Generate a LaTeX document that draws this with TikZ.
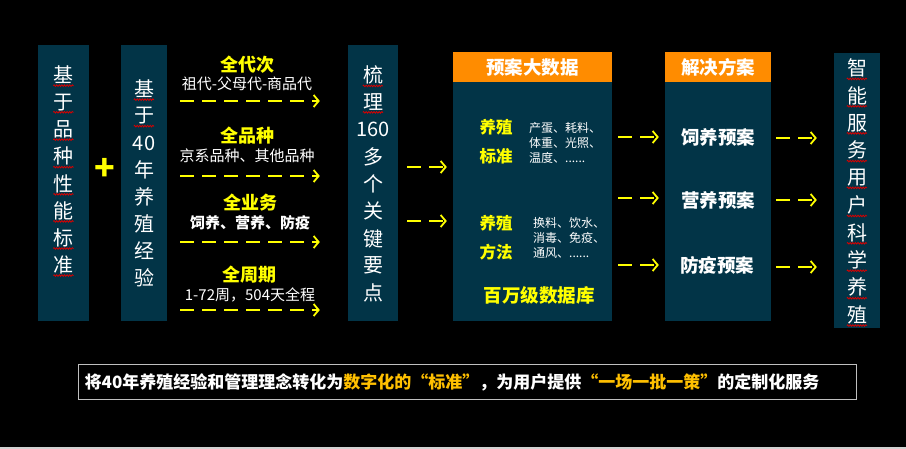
\documentclass[tikz,border=0pt]{standalone}
\usepackage{fontspec}
\setmainfont{Noto Sans CJK SC}
\usetikzlibrary{arrows.meta, positioning, decorations.pathmorphing}
\definecolor{panelc}{HTML}{023447}
\definecolor{headc}{HTML}{FF8C00}
\definecolor{marky}{HTML}{FFFF00}
\definecolor{bannery}{HTML}{FFC000}
\definecolor{framec}{HTML}{BFBFBF}

\begin{document}
\begin{tikzpicture}[x=1pt, y=-1pt,
  panel/.style={fill=panelc, inner sep=0pt},
  header/.style={fill=headc, inner sep=0pt, text=white, font=\fontsize{18.5}{20}\selectfont\bfseries},
  vchar/.style={text=white, inner sep=0pt, font=\fontsize{20}{22}\selectfont},
  squiggle/.style={draw=red!85!black, line width=0.8pt, decorate, decoration={snake, amplitude=0.8pt, segment length=2.6pt}},
  ytitle/.style={text=marky, font=\fontsize{18}{20}\selectfont\bfseries},
  wsub/.style={text=white, font=\fontsize{15}{17}\selectfont},
  wsmall/.style={text=white, align=left, anchor=west, inner sep=0pt, font=\fontsize{12}{15}\selectfont},
  plan/.style={text=white, font=\fontsize{18.5}{20}\selectfont\bfseries},
  dasharrow/.style={draw=marky, line width=2pt, dash pattern=on 14pt off 8pt,
    -{Straight Barb[length=5pt, width=12pt, line width=1.8pt]}},
]
\useasboundingbox (0,0) rectangle (906,449);
\fill[black] (0,0) rectangle (906,449);
\fill[framec!70!white] (0,446.5) rectangle (906,449);

% Left: two standards columns
\node[panel, minimum width=51pt, minimum height=276pt] (b1) at (63.5,183) {};
\foreach \ch [count=\i] in {基,于,品,种,性,能,标,准} {
  \node[vchar] (v1\i) at (63.5,{75+27.1*(\i-1)}) {\ch};
  \draw[squiggle] ([yshift=-1.5pt]v1\i.south west) -- ([yshift=-1.5pt]v1\i.south east);
}
\node[text=marky, font=\fontsize{34}{34}\selectfont\bfseries] (plus) at (104.5,169) {+};
\node[panel, minimum width=46pt, minimum height=276pt] (b2) at (144,183) {};
\foreach \ch [count=\i] in {基,于,40,年,养,殖,经,验} {
  \node[vchar] (v2\i) at (144,{89+27*(\i-1)}) {\ch};
}
\draw[squiggle] ([yshift=-1.5pt]v21.south west) -- ([yshift=-1.5pt]v21.south east);
\draw[squiggle] ([yshift=-1.5pt]v22.south west) -- ([yshift=-1.5pt]v22.south east);

% Middle: four coverage items
\node[ytitle] (t1) at (247,65) {全代次};
\node[wsub] (s1) at (247,84) {祖代-父母代-商品代};
\node[ytitle] (t2) at (247,136) {全品种};
\node[wsub] (s2) at (247,156) {京系品种、其他品种};
\node[ytitle] (t3) at (250,203) {全业务};
\node[wsub, font=\fontsize{15}{17}\selectfont\bfseries] (s3) at (250,223) {饲养、营养、防疫};
\node[ytitle] (t4) at (249,275) {全周期};
\node[wsub] (s4) at (250,295) {1-72周，504天全程};

\node[panel, minimum width=50pt, minimum height=276pt] (b3) at (373,183) {};
\foreach \ch [count=\i] in {梳,理,160,多,个,关,键,要,点} {
  \node[vchar] (v3\i) at (373,{75+27.25*(\i-1)}) {\ch};
}
\draw[squiggle] ([yshift=-1.5pt]v31.south west) -- ([yshift=-1.5pt]v31.south east);
\draw[squiggle] ([yshift=-1.5pt]v32.south west) -- ([yshift=-1.5pt]v32.south east);

\foreach \yy in {101,176,242,310}
  \draw[dasharrow, shorten <=13pt, shorten >=28pt] (b2.east |- 0,\yy) -- (b3.west |- 0,\yy);

% Big data block
\node[header, minimum width=159pt, minimum height=30pt] (h4) at (532.5,67) {预案大数据};
\node[panel, minimum width=159pt, minimum height=239pt, below=0pt of h4] (b4) {};
\node[ytitle, font=\fontsize{16.5}{18}\selectfont\bfseries] (k1) at (496,127) {养殖};
\node[ytitle, font=\fontsize{16.5}{18}\selectfont\bfseries] (k2) at (496,156) {标准};
\node[wsmall] (d1) at (529,143) {产蛋、耗料、\\体重、光照、\\温度、......};
\node[ytitle, font=\fontsize{16.5}{18}\selectfont\bfseries] (k3) at (496,223) {养殖};
\node[ytitle, font=\fontsize{16.5}{18}\selectfont\bfseries] (k4) at (496,252) {方法};
\node[wsmall] (d2) at (533,238) {换料、饮水、\\消毒、免疫、\\通风、......};
\node[ytitle, font=\fontsize{18.5}{20}\selectfont\bfseries] (db) at (539,295) {百万级数据库};

\foreach \yy in {167,221}
  \draw[dasharrow, shorten <=9pt, shorten >=6pt] (b3.east |- 0,\yy) -- (b4.west |- 0,\yy);

% Solutions block
\node[header, minimum width=106pt, minimum height=30pt] (h5) at (718,67) {解决方案};
\node[panel, minimum width=106pt, minimum height=239pt, below=0pt of h5] (b5) {};
\node[plan] (p1) at (718,137) {饲养预案};
\node[plan] (p2) at (718,200) {营养预案};
\node[plan] (p3) at (717,265) {防疫预案};

\foreach \yy in {137,198,265}
  \draw[dasharrow, shorten <=6pt, shorten >=6pt] (b4.east |- 0,\yy) -- (b5.west |- 0,\yy);

% Right: service column
\node[panel, minimum width=46pt, minimum height=275pt] (b6) at (857,190.5) {};
\foreach \ch [count=\i] in {智,能,服,务,用,户,科,学,养,殖} {
  \node[vchar] (v6\i) at (857,{68+27.4*(\i-1)}) {\ch};
  \draw[squiggle] ([yshift=-1.5pt]v6\i.south west) -- ([yshift=-1.5pt]v6\i.south east);
}

\foreach \yy in {138,200,267}
  \draw[dasharrow, shorten <=5pt, shorten >=17pt] (b5.east |- 0,\yy) -- (b6.west |- 0,\yy);

% Bottom summary
\node[draw=framec, line width=1pt, minimum width=778pt, minimum height=34pt, inner sep=0pt] (note) at (467,382) {};
\node[anchor=west, inner sep=0pt, text=white, font=\fontsize{17}{19}\selectfont\bfseries] (notetext) at ([xshift=7pt]note.west)
  {将40年养殖经验和管理理念转化为\textcolor{bannery}{数字化的“标准”}，为用户提供\textcolor{bannery}{“一场一批一策”}的定制化服务};

\end{tikzpicture}
\end{document}
